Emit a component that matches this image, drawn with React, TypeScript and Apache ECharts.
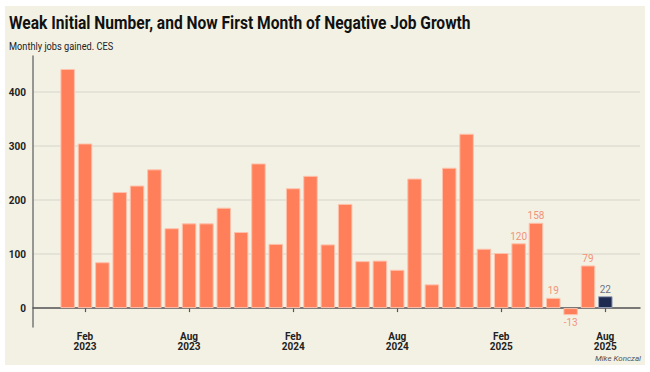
import React, { useEffect, useRef } from "react";
import * as echarts from "echarts";

const titleText = "Weak Initial Number, and Now First Month of Negative Job Growth";
const subtitleText = "Monthly jobs gained. CES";
const creditText = "Mike Konczal";

const leadMonths = ["Nov 2022", "Dec 2022"];
const months = [
  "Jan 2023", "Feb 2023", "Mar 2023", "Apr 2023", "May 2023", "Jun 2023",
  "Jul 2023", "Aug 2023", "Sep 2023", "Oct 2023", "Nov 2023", "Dec 2023",
  "Jan 2024", "Feb 2024", "Mar 2024", "Apr 2024", "May 2024", "Jun 2024",
  "Jul 2024", "Aug 2024", "Sep 2024", "Oct 2024", "Nov 2024", "Dec 2024",
  "Jan 2025", "Feb 2025", "Mar 2025", "Apr 2025", "May 2025", "Jun 2025",
  "Jul 2025", "Aug 2025",
];
const trailMonths = ["Sep 2025", "Oct 2025"];
const jobs = [
  443, 305, 85, 215, 227, 257, 148, 157, 157, 186, 141, 268,
  119, 222, 245, 118, 193, 87, 88, 71, 240, 44, 260, 323,
  110, 102, 120, 158, 19, -13, 79, 22,
];
const labeledMonths = ["Mar 2025", "Apr 2025", "May 2025", "Jun 2025", "Jul 2025", "Aug 2025"];
const highlightMonth = "Aug 2025";
const tickMonths = ["Feb", "Aug"];

const BAR = "#FF7F5A";
const NAVY = "#1F2A50";

export default function App() {
  const ref = useRef<HTMLDivElement>(null);
  useEffect(() => {
    if (!ref.current) return;
    const chart = echarts.init(ref.current, null, { renderer: "svg" });
    const categories = [...leadMonths, ...months, ...trailMonths];
    const seriesData = categories.map((c) => {
      const i = months.indexOf(c);
      if (i < 0) return "-";
      const v = jobs[i];
      const isHi = c === highlightMonth;
      const item: any = {
        value: v,
        itemStyle: isHi
          ? { color: NAVY, borderColor: "#9aa3bd", borderWidth: 1 }
          : { color: BAR, borderColor: "#FFC2AC", borderWidth: 1 },
      };
      if (labeledMonths.includes(c)) {
        item.label = {
          show: true,
          position: v < 0 ? "bottom" : "top",
          distance: 2,
          color: isHi ? "#6b7184" : "#F2937A",
          fontSize: 10,
          fontFamily: "Roboto",
        };
      }
      return item;
    });
    const showTick = (_i: number, v: string) => tickMonths.includes(v.split(" ")[0]);
    chart.setOption({
      animation: false,
      backgroundColor: "transparent",
      graphic: [
        {
          type: "text",
          x: 9,
          y: 14,
          scaleX: 0.865,
          style: {
            text: titleText,
            fontFamily: "Roboto",
            fontWeight: "bold",
            fontSize: 18,
            fill: "#111",
          },
        },
        {
          type: "text",
          x: 9,
          y: 41,
          scaleX: 0.84,
          style: {
            text: subtitleText,
            fontFamily: "Roboto",
            fontSize: 11,
            fill: "#222",
          },
        },
        {
          type: "text",
          right: 9,
          top: 354,
          style: {
            text: creditText,
            fontFamily: "Roboto",
            fontStyle: "italic",
            fontSize: 8,
            fill: "#555",
          },
        },
      ],
      grid: { left: 33, right: 10, top: 56, bottom: 45 },
      xAxis: {
        type: "category",
        data: categories,
        boundaryGap: false,
        axisLine: { lineStyle: { color: "#555", width: 1.5 } },
        axisTick: { interval: showTick, length: 4, lineStyle: { color: "#555", width: 1.2 } },
        axisLabel: {
          interval: showTick,
          formatter: (v: string) => v.replace(" ", "\n"),
          fontFamily: "Roboto",
          fontWeight: "bold",
          fontSize: 10,
          lineHeight: 10,
          color: "#222",
          margin: 4,
        },
        splitLine: { show: false },
      },
      yAxis: {
        type: "value",
        min: -35,
        max: 467,
        splitNumber: 5,
        axisLine: { show: true, lineStyle: { color: "#777", width: 1.5 } },
        axisTick: { show: false },
        axisLabel: {
          formatter: (v: number) => (v % 100 === 0 ? String(v) : ""),
          showMinLabel: false,
          showMaxLabel: false,
          fontFamily: "Roboto",
          fontWeight: "bold",
          fontSize: 10,
          color: "#222",
          margin: 7,
        },
        splitLine: {
          show: true,
          showMinLine: false,
          showMaxLine: false,
          lineStyle: { color: "#E0DED5", width: 1.5 },
        },
      },
      series: [
        {
          type: "bar",
          data: seriesData,
          barWidth: 14.5,
        },
      ],
    });
    return () => chart.dispose();
  }, []);
  return (
    <div style={{ position: "fixed", left: 0, top: 0, width: 650, height: 372, background: "#fff" }}>
      <div
        style={{ position: "absolute", left: 5, top: 6, width: 640, height: 359, background: "#F3F1E4" }}
      />
      <div ref={ref} style={{ position: "absolute", left: 0, top: 0, width: 650, height: 372 }} />
    </div>
  );
}
